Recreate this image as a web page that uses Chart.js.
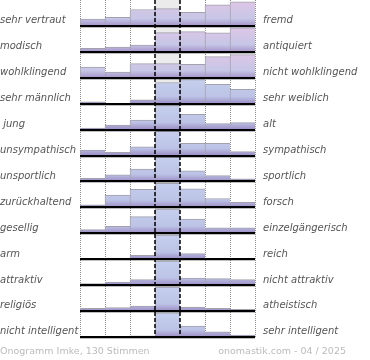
<!DOCTYPE html>
<html>
<head>
<meta charset="utf-8">
<script src="https://cdn.jsdelivr.net/npm/chart.js@4.4.1/dist/chart.umd.min.js"></script>
<style>
  body { margin: 0; background: #fff; }
  #wrap { width: 370px; height: 360px; position: relative; }
</style>
</head>
<body>
<div id="wrap"><canvas id="onogramm"></canvas></div>
<script>
// scale steps of every row, left pole = -3, right pole = +3
const bins = ['-3', '-2', '-1', '0', '1', '2', '3'];

const leftLabels = ['sehr vertraut', 'modisch', 'wohlklingend', 'sehr männlich', ' jung', 'unsympathisch',
    'unsportlich', 'zurückhaltend', 'gesellig', 'arm', 'attraktiv', 'religiös', 'nicht intelligent'];
const rightLabels = ['fremd', 'antiquiert', 'nicht wohlklingend', 'sehr weiblich', 'alt', 'sympathisch',
    'sportlich', 'forsch', 'einzelgängerisch', 'reich', 'nicht attraktiv', 'atheistisch', 'sehr intelligent'];

// votes per step, relative to the strongest step of the row (= 100)
const vertraut = [28, 36, 68, 72, 56, 88, 100];
const modisch = [15, 20, 28, 80, 84, 79, 100];
const wohlklingend = [44, 24, 59, 59, 56, 88, 96];
const maennlich = [8, 0, 16, 88, 100, 80, 60];
const jung = [6, 19, 40, 100, 63, 25, 29];
const unsympathisch = [23, 13, 36, 100, 51, 51, 16];
const unsportlich = [13, 27, 51, 100, 44, 24, 11];
const zurueckhaltend = [11, 51, 75, 100, 77, 37, 21];
const gesellig = [15, 29, 69, 100, 59, 23, 23];
const arm = [0, 5, 16, 100, 23, 0, 0];
const attraktiv = [7, 13, 23, 100, 29, 27, 23];
const religioes = [11, 15, 21, 100, 17, 11, 7];
const intelligent = [0, 0, 5, 100, 45, 21, 8];

const rows = [vertraut, modisch, wohlklingend, maennlich, jung, unsympathisch, unsportlich,
    zurueckhaltend, gesellig, arm, attraktiv, religioes, intelligent];

const footerLeft = 'Onogramm Imke, 130 Stimmen';
const footerRight = 'onomastik.com - 04 / 2025';

const nRows = rows.length;
const barFill = 0.93;      // tallest bar uses this much of a row
const pinkRows = 3;        // the name-related rows on top are tinted pink

function rowBase(i) {
    return nRows - 1 - i;
}

const gradients = {};
function barGradient(c) {
    const chart = c.chart;
    if (!chart.chartArea) return '#c4cae8';
    const i = c.datasetIndex;
    if (gradients[i]) return gradients[i];
    const y = chart.scales.yl;
    const top = y.getPixelForValue(rowBase(i) + barFill);
    const bottom = y.getPixelForValue(rowBase(i));
    const g = chart.ctx.createLinearGradient(0, top, 0, bottom);
    if (i < pinkRows) {
        g.addColorStop(0, '#dec6e6');
        g.addColorStop(0.7, '#c6c6e6');
        g.addColorStop(1, '#a494c8');
    } else {
        g.addColorStop(0, '#c6cfee');
        g.addColorStop(0.7, '#bcc3e6');
        g.addColorStop(1, '#9c8cc4');
    }
    gradients[i] = g;
    return g;
}

const datasets = rows.map((values, i) => ({
    label: leftLabels[i],
    yAxisID: 'yl',
    data: values.map(v => v ? [rowBase(i), rowBase(i) + v / 100 * barFill] : null),
    backgroundColor: barGradient,
    borderColor: '#a2a2ae',
    borderWidth: { top: 1, left: 1, right: 0, bottom: 0 },
    borderSkipped: false
}));

const rowTicks = (scale) => {
    scale.ticks = leftLabels.map((_, i) => ({ value: rowBase(i) + 0.2 }));
};

const decorations = {
    id: 'decorations',
    beforeDraw(chart) {
        const { ctx, chartArea, scales } = chart;
        const x = scales.x;
        const l = (x.getPixelForValue(2) + x.getPixelForValue(3)) / 2;
        const r = (x.getPixelForValue(3) + x.getPixelForValue(4)) / 2;
        ctx.save();
        ctx.fillStyle = '#ebebeb';
        ctx.fillRect(l, chartArea.top, r - l, chartArea.bottom - chartArea.top);
        ctx.restore();
    },
    afterDatasetsDraw(chart) {
        const { ctx, chartArea, scales } = chart;
        const x = scales.x;
        const y = scales.yl;
        ctx.save();
        // dashed frame of the neutral step
        ctx.strokeStyle = '#000';
        ctx.lineWidth = 1.5;
        ctx.setLineDash([4, 2]);
        [2, 3].forEach(k => {
            const px = Math.round((x.getPixelForValue(k) + x.getPixelForValue(k + 1)) / 2);
            ctx.beginPath();
            ctx.moveTo(px, chartArea.top);
            ctx.lineTo(px, chartArea.bottom);
            ctx.stroke();
        });
        ctx.setLineDash([]);
        // base line of every row
        rows.forEach((_, i) => {
            const py = Math.round(y.getPixelForValue(rowBase(i)));
            ctx.fillStyle = 'rgba(0,0,0,0.25)';
            ctx.fillRect(chartArea.left, py + 1, chartArea.right - chartArea.left, 1);
            ctx.fillStyle = '#000';
            ctx.fillRect(chartArea.left, py - 1, chartArea.right - chartArea.left, 2);
        });
        ctx.restore();
    },
    afterDraw(chart) {
        const ctx = chart.ctx;
        ctx.save();
        ctx.font = '9.5px "DejaVu Sans"';
        ctx.fillStyle = '#bbbbbb';
        ctx.textBaseline = 'middle';
        ctx.textAlign = 'left';
        ctx.fillText(footerLeft, 0, 352);
        ctx.textAlign = 'right';
        ctx.fillText(footerRight, 346, 352);
        ctx.restore();
    }
};

const labelFont = { family: 'DejaVu Sans', size: 10, style: 'italic' };

new Chart(document.getElementById('onogramm'), {
    type: 'bar',
    data: { labels: bins, datasets },
    options: {
        responsive: true,
        maintainAspectRatio: false,
        animation: false,
        events: [],
        layout: { padding: { top: 0, bottom: 23, left: 0, right: 0 } },
        datasets: { bar: { grouped: false, barPercentage: 1, categoryPercentage: 1 } },
        plugins: { legend: { display: false }, tooltip: { enabled: false } },
        scales: {
            x: {
                ticks: { display: false },
                grid: {
                    drawTicks: false,
                    color: c => (c.index === 3 || c.index === 4) ? 'transparent' : '#8c8c8c',
                    lineWidth: 1
                },
                border: { display: false, dash: [1, 1] }
            },
            yl: {
                type: 'linear',
                position: 'left',
                min: 0,
                max: nRows,
                afterBuildTicks: rowTicks,
                afterFit: s => { s.width = 80; s.paddingTop = 0; s.paddingBottom = 0; },
                grid: { display: false, drawTicks: false },
                border: { display: false },
                ticks: {
                    autoSkip: false,
                    crossAlign: 'far',
                    color: '#555',
                    font: labelFont,
                    callback: (v, i) => leftLabels[i]
                }
            },
            yr: {
                type: 'linear',
                position: 'right',
                min: 0,
                max: nRows,
                afterBuildTicks: rowTicks,
                afterFit: s => { s.width = 115; s.paddingTop = 0; s.paddingBottom = 0; },
                grid: { display: false, drawTicks: false },
                border: { display: false },
                ticks: {
                    autoSkip: false,
                    crossAlign: 'near',
                    padding: 8,
                    color: '#555',
                    font: labelFont,
                    callback: (v, i) => rightLabels[i]
                }
            }
        }
    },
    plugins: [decorations]
});
</script>
</body>
</html>
